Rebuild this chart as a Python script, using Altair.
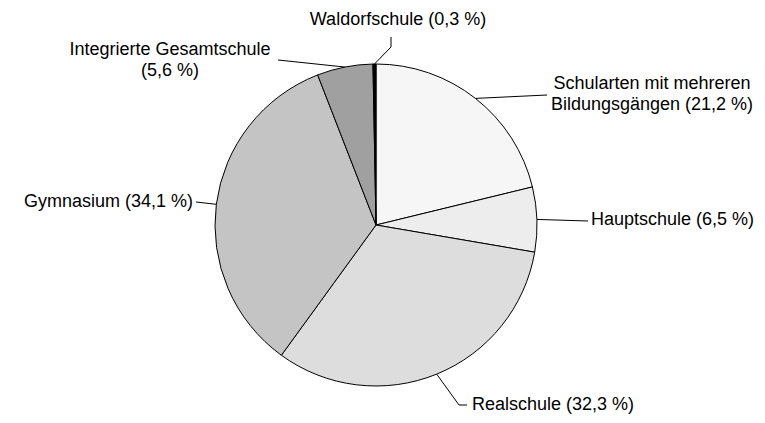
import math
import altair as alt
import pandas as pd

# ---- data ----
categories = [
    "Schularten mit mehreren Bildungsgängen",
    "Hauptschule",
    "Realschule",
    "Gymnasium",
    "Integrierte Gesamtschule",
    "Waldorfschule",
]
shares = [21.2, 6.5, 32.3, 34.1, 5.6, 0.3]
label_lines = [
    ["Schularten mit mehreren", "Bildungsgängen (21,2 %)"],
    ["Hauptschule (6,5 %)"],
    ["Realschule (32,3 %)"],
    ["Gymnasium (34,1 %)"],
    ["Integrierte Gesamtschule", "(5,6 %)"],
    ["Waldorfschule (0,3 %)"],
]

# ---- styles / layout ----
fills = ["#f6f6f6", "#ededed", "#dddddd", "#c4c4c4", "#a0a0a0", "#000000"]
W, H = 749, 407
M = 8
CX, CY, R = 376 - M, 225 - M, 161
FONT, FS, LINE_H = "Liberation Sans", 18, 21

# leader line bend/end points (page px) and label anchors (page px)
leader_tail = [
    [(547, 95)],
    [(588, 221)],
    [(459, 405), (467, 405)],
    [(196, 202)],
    [(278, 60)],
    [(391, 47), (391, 37)],
]
label_anchor = [
    (652, 84, "center"),
    (591, 220, "left"),
    (472, 405, "left"),
    (193, 202, "right"),
    (170, 50, "center"),
    (398, 20, "center"),
]

# ---- build tables ----
pie_df = pd.DataFrame({"category": categories, "share": shares, "order": range(len(categories))})

total = sum(shares)
line_rows, text_rows = [], []
cum = 0.0
for i, s in enumerate(shares):
    mid = (cum + s / 2) / total * 2 * math.pi
    cum += s
    sx = CX + R * math.sin(mid)
    sy = CY - R * math.cos(mid)
    pts = [(sx, sy)] + [(px - M, py - M) for px, py in leader_tail[i]]
    for j, (px, py) in enumerate(pts):
        line_rows.append({"id": i, "seq": j, "x": px, "y": py})
    ax, ay, al = label_anchor[i]
    for k, t in enumerate(label_lines[i]):
        text_rows.append({"text": t, "x": ax - M, "y": ay - M + k * LINE_H, "align": al})

lines_df = pd.DataFrame(line_rows)
text_df = pd.DataFrame(text_rows)

xs = alt.Scale(domain=[0, W], nice=False, zero=False)
ys = alt.Scale(domain=[H, 0], nice=False, zero=False)

pie = alt.Chart(pie_df).mark_arc(outerRadius=R, stroke="black", strokeWidth=1).encode(
    theta=alt.Theta("share:Q", stack=True),
    order=alt.Order("order:Q"),
    color=alt.Color("category:N", scale=alt.Scale(domain=categories, range=fills), legend=None),
    x=alt.value(CX),
    y=alt.value(CY),
)

leaders = alt.Chart(lines_df).mark_line(color="black", strokeWidth=1).encode(
    x=alt.X("x:Q", scale=xs, axis=None),
    y=alt.Y("y:Q", scale=ys, axis=None),
    detail="id:N",
    order="seq:Q",
)

text_layers = []
for al in ["left", "center", "right"]:
    sub = text_df[text_df["align"] == al]
    text_layers.append(
        alt.Chart(sub).mark_text(align=al, baseline="middle", font=FONT, fontSize=FS, color="black").encode(
            x=alt.X("x:Q", scale=xs, axis=None),
            y=alt.Y("y:Q", scale=ys, axis=None),
            text="text:N",
        )
    )

chart = alt.layer(pie, leaders, *text_layers).properties(
    width=W, height=H, padding=0, autosize=alt.AutoSizeParams(type="none"), background="white"
).configure_view(stroke=None)

chart.save("out.html", embed_options={"renderer": "svg", "actions": False})
